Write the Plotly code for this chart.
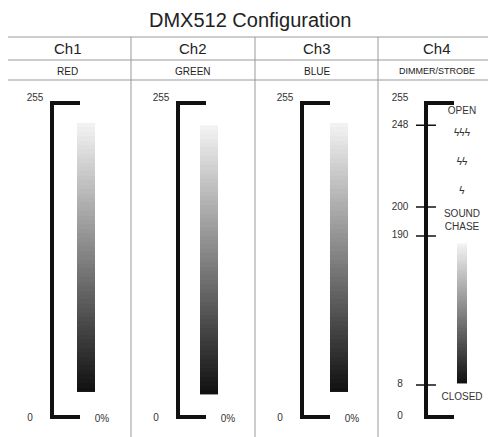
import plotly.graph_objects as go

W, H = 496, 437
OFF = 8  # browser page margin
FONT = "Liberation Sans, Arial, sans-serif"

CHANNELS = ["Ch1", "Ch2", "Ch3", "Ch4"]
FUNCTIONS = ["RED", "GREEN", "BLUE", "DIMMER/STROBE"]
DMX_MIN, DMX_MAX = 0, 255
CH4_LEVELS = ["255", "248", "200", "190", "8", "0"]
CH4_POS = [255, 237, 170.5, 147, 26, 0]  # where each level sits on the drawn scale
CH4_NOTES = ["OPEN", "ϟϟϟ", "ϟϟ", "ϟ", "SOUND<br>CHASE", "CLOSED"]
CH4_NOTE_POS = [248, 230, 207, 183, 159, 16]

COL_EDGES = [4, 131, 255, 378, 496]
BRACKET_X = [52, 178, 302, 426]
BAR_X = [86, 209, 339, 462]
BAR_W = [18, 18, 18, 10]
BAR_RANGE = [(22, 237), (20, 235), (22, 237), (28, 140)]

PAD = 10  # extra DMX units around the scale so labels are not culled
PX_PER_UNIT = 314 / 255

fig = go.Figure()

fig.add_trace(go.Scatter(x=[0, W], y=[0, H], mode="markers", marker=dict(opacity=0),
                         hoverinfo="skip"))

line = dict(color="#9a9a9a", width=1)
for y in (4, 37, 60, 80):
    fig.add_shape(type="line", xref="x", yref="y", x0=4, x1=W + 10, y0=y, y1=y, line=line)
fig.add_shape(type="line", xref="x", yref="y", x0=4, x1=4, y0=4, y1=H + 10, line=line)
for x in COL_EDGES[1:4]:
    fig.add_shape(type="line", xref="x", yref="y", x0=x, x1=x, y0=37, y1=H + 10, line=line)

fig.add_annotation(x=250, y=20, xref="x", yref="y", text="DMX512 Configuration", showarrow=False,
                   font=dict(family=FONT, size=20, color="#222"))
for i, (ch, fn) in enumerate(zip(CHANNELS, FUNCTIONS)):
    cx = (COL_EDGES[i] + COL_EDGES[i + 1]) / 2
    fig.add_annotation(x=cx, y=48, xref="x", yref="y", text=ch, showarrow=False,
                       font=dict(family=FONT, size=15, color="#222"))
    fig.add_annotation(x=cx, y=71, xref="x", yref="y", text=fn, showarrow=False,
                       font=dict(family=FONT, size=10 if i < 3 else 9, color="#222"))

lab_x, lab_y, lab_t = [], [], []
for i in range(4):
    bx = BRACKET_X[i]
    blk = dict(color="#111", width=4)
    fig.add_shape(type="line", xref="x", yref="y2", x0=bx, x1=bx, y0=DMX_MIN, y1=DMX_MAX, line=blk)
    fig.add_shape(type="line", xref="x", yref="y2", x0=bx - 2, x1=bx + 28, y0=DMX_MAX, y1=DMX_MAX, line=blk)
    fig.add_shape(type="line", xref="x", yref="y2", x0=bx - 2, x1=bx + 28, y0=DMX_MIN, y1=DMX_MIN, line=blk)
    lo, hi = BAR_RANGE[i]
    ys = [lo + (hi - lo) * k / 60 for k in range(61)]
    fig.add_trace(go.Heatmap(
        x=[BAR_X[i] - BAR_W[i] / 2, BAR_X[i] + BAR_W[i] / 2], y=ys,
        z=[[v] for v in ys], xaxis="x", yaxis="y2",
        colorscale=[[0, "#111"], [1, "#f2f2f2"]], zmin=lo, zmax=hi,
        showscale=False, hoverinfo="skip",
    ))
    if i < 3:
        lab_x += [bx - 17, bx - 22, bx + 50]
        lab_y += [DMX_MAX + 4, DMX_MIN - 1, DMX_MIN - 2]
        lab_t += [str(DMX_MAX), str(DMX_MIN), "0%"]

fig.add_trace(go.Scatter(
    x=lab_x, y=lab_y, text=lab_t, mode="text", xaxis="x", yaxis="y2", cliponaxis=False,
    textfont=dict(family=FONT, size=10, color="#333"), hoverinfo="skip"))

bx = BRACKET_X[3]
for lvl, p in zip(CH4_LEVELS, CH4_POS):
    if lvl not in ("255", "0"):
        fig.add_shape(type="line", xref="x", yref="y2", x0=bx - 10, x1=bx + 10, y0=p, y1=p,
                      line=dict(color="#111", width=1.5))
fig.add_trace(go.Scatter(
    x=[bx - 26] * len(CH4_LEVELS), y=[p + (4 if p == 255 else 0) for p in CH4_POS],
    text=CH4_LEVELS, mode="text", yaxis="y2", cliponaxis=False,
    textfont=dict(family=FONT, size=10, color="#333"), hoverinfo="skip"))
fig.add_trace(go.Scatter(
    x=[bx + 36] * len(CH4_NOTES), y=CH4_NOTE_POS, text=CH4_NOTES, mode="text", yaxis="y2",
    cliponaxis=False, textfont=dict(family=FONT, size=10, color="#333"), hoverinfo="skip"))

pad_px = PAD * PX_PER_UNIT
fig.update_layout(
    width=W, height=H, margin=dict(l=0, r=0, t=0, b=0),
    paper_bgcolor="white", plot_bgcolor="white", showlegend=False,
    xaxis=dict(range=[OFF, W + OFF], autorange=False, visible=False, fixedrange=True),
    yaxis=dict(range=[H + OFF, OFF], autorange=False, visible=False, fixedrange=True),
    yaxis2=dict(range=[DMX_MIN - PAD, DMX_MAX + PAD], autorange=False,
                domain=[1 - (417 - OFF + pad_px) / H, 1 - (103 - OFF - pad_px) / H],
                anchor="x", visible=False, fixedrange=True),
)

fig.write_html("out.html")
